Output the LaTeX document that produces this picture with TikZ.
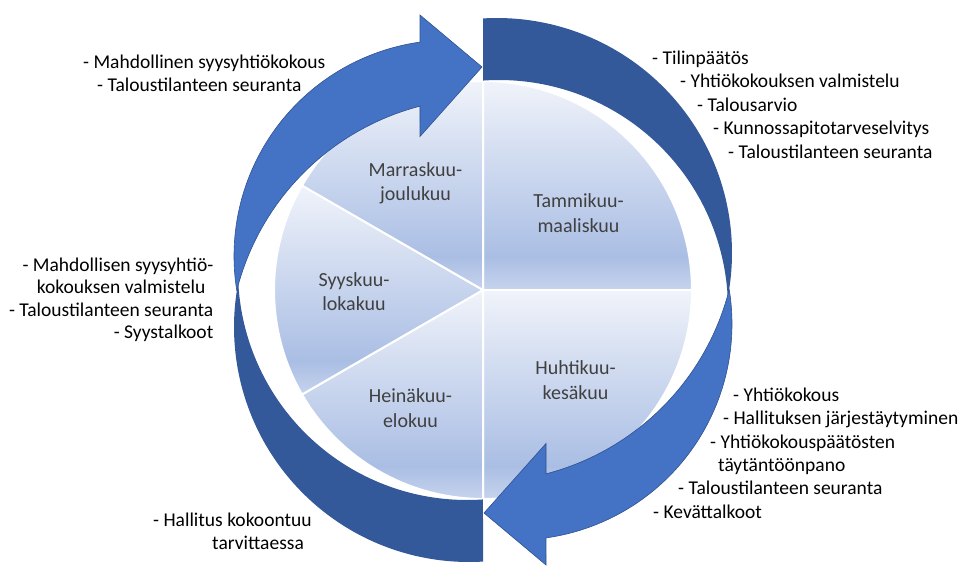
\documentclass[tikz,border=0pt]{standalone}
\usepackage{fontspec}
\setmainfont{Carlito}
\definecolor{darkarc}{RGB}{51,89,154}
\definecolor{bluearr}{RGB}{68,114,196}
\definecolor{blueedge}{RGB}{47,82,143}
\definecolor{segTop}{RGB}{240,243,250}
\definecolor{segMid}{RGB}{170,190,228}
\definecolor{segBot}{RGB}{198,211,236}
\definecolor{labelgray}{RGB}{64,64,64}
\pgfdeclareverticalshading{segshade}{100bp}{color(0bp)=(segBot); color(25bp)=(segBot); color(33bp)=(segMid); color(75bp)=(segTop); color(100bp)=(segTop)}
\begin{document}
\begin{tikzpicture}[x=1pt,y=-1pt,
  seg/.style={shade, shading=segshade, draw=white, line width=2pt},
  darkband/.style={fill=darkarc},
  bluearrow/.style={fill=bluearr, draw=blueedge, line width=0.6pt, line join=miter},
  listtxt/.style={inner sep=0pt, text=black, font=\fontsize{19.5}{23.5}\selectfont},
  monthtxt/.style={inner sep=0pt, text=labelgray, align=center, font=\fontsize{20}{24.5}\selectfont}]
\useasboundingbox (0,0) rectangle (961,565);
% pie segments
\path[seg] (483,290) -- plot[domain=-90:0,samples=40] ({483+209*cos(\x)},{290+209*sin(\x)}) -- cycle;
\path[seg] (483,290) -- plot[domain=0:90,samples=40] ({483+209*cos(\x)},{290+209*sin(\x)}) -- cycle;
\path[seg] (483,290) -- plot[domain=90:150,samples=30] ({483+209*cos(\x)},{290+209*sin(\x)}) -- cycle;
\path[seg] (483,290) -- plot[domain=150:210,samples=30] ({483+209*cos(\x)},{290+209*sin(\x)}) -- cycle;
\path[seg] (483,290) -- plot[domain=210:270,samples=30] ({483+209*cos(\x)},{290+209*sin(\x)}) -- cycle;
% dark bands
\fill[darkband] plot[domain=-93.415:10.965,samples=90] ({497+235*cos(\x)},{253+235*sin(\x)}) -- plot[domain=-2.841:-94.006,samples=90] ({499+229*cos(\x)},{309+229*sin(\x)}) -- cycle;
\begin{scope}[rotate around={180:(483,290)}]
\fill[darkband] plot[domain=-93.415:10.965,samples=90] ({497+235*cos(\x)},{253+235*sin(\x)}) -- plot[domain=-2.841:-94.006,samples=90] ({499+229*cos(\x)},{309+229*sin(\x)}) -- cycle;
\end{scope}
% blue arrows
\path[bluearrow] plot[domain=170.81:262.02,samples=90] ({450+216*cos(\x)},{256+216*sin(\x)}) -- (420,15) -- (482,67) -- (420,136.5) -- plot[domain=255.46:194.19,samples=90] ({484+255*cos(\x)},{353+255*sin(\x)}) -- cycle;
\begin{scope}[rotate around={180:(483,290)}]
\path[bluearrow] plot[domain=170.81:262.02,samples=90] ({450+216*cos(\x)},{256+216*sin(\x)}) -- (420,15) -- (482,67) -- (420,136.5) -- plot[domain=255.46:194.19,samples=90] ({484+255*cos(\x)},{353+255*sin(\x)}) -- cycle;
\end{scope}
% month labels
\node[monthtxt] (m1) at (415.5,183.5) {Marraskuu-\\joulukuu};
\node[monthtxt] (m2) at (578.5,213) {Tammikuu-\\maaliskuu};
\node[monthtxt] (m3) at (354,291.5) {Syyskuu-\\lokakuu};
\node[monthtxt] (m4) at (410.5,408) {Heinäkuu-\\elokuu};
\node[monthtxt] (m5) at (575.5,380) {Huhtikuu-\\kesäkuu};
% top left
\node[listtxt, anchor=base west] (tl1) at (83,68) {- Mahdollinen syysyhtiökokous};
\node[listtxt, anchor=base west] (tl2) at (97,91) {- Taloustilanteen seuranta};
% top right
\node[listtxt, anchor=base west] (tr1) at (652,64) {- Tilinpäätös};
\node[listtxt, anchor=base west] (tr2) at (680,87.5) {- Yhtiökokouksen valmistelu};
\node[listtxt, anchor=base west] (tr3) at (697,111) {- Talousarvio};
\node[listtxt, anchor=base west] (tr4) at (713,134.5) {- Kunnossapitotarveselvitys};
\node[listtxt, anchor=base west] (tr5) at (728,158) {- Taloustilanteen seuranta};
% left middle
\node[listtxt, anchor=base east] (lm1) at (213.5,271) {- Mahdollisen syysyhtiö-};
\node[listtxt, anchor=base east] (lm2) at (205.5,293.5) {kokouksen valmistelu};
\node[listtxt, anchor=base east] (lm3) at (213.5,316) {- Taloustilanteen seuranta};
\node[listtxt, anchor=base east] (lm4) at (213.5,338.5) {- Syystalkoot};
% bottom right
\node[listtxt, anchor=base west] (br1) at (733,401) {- Yhtiökokous};
\node[listtxt, anchor=base west] (br2) at (723,424.5) {- Hallituksen järjestäytyminen};
\node[listtxt, anchor=base west] (br3) at (710,448) {- Yhtiökokouspäätösten};
\node[listtxt, anchor=base west] (br4) at (718,471) {täytäntöönpano};
\node[listtxt, anchor=base west] (br5) at (678,494.5) {- Taloustilanteen seuranta};
\node[listtxt, anchor=base west] (br6) at (653,518) {- Kevättalkoot};
% bottom left
\node[listtxt, anchor=base west] (bl1) at (153,526) {- Hallitus kokoontuu};
\node[listtxt, anchor=base west] (bl2) at (212,549) {tarvittaessa};
\end{tikzpicture}
\end{document}
